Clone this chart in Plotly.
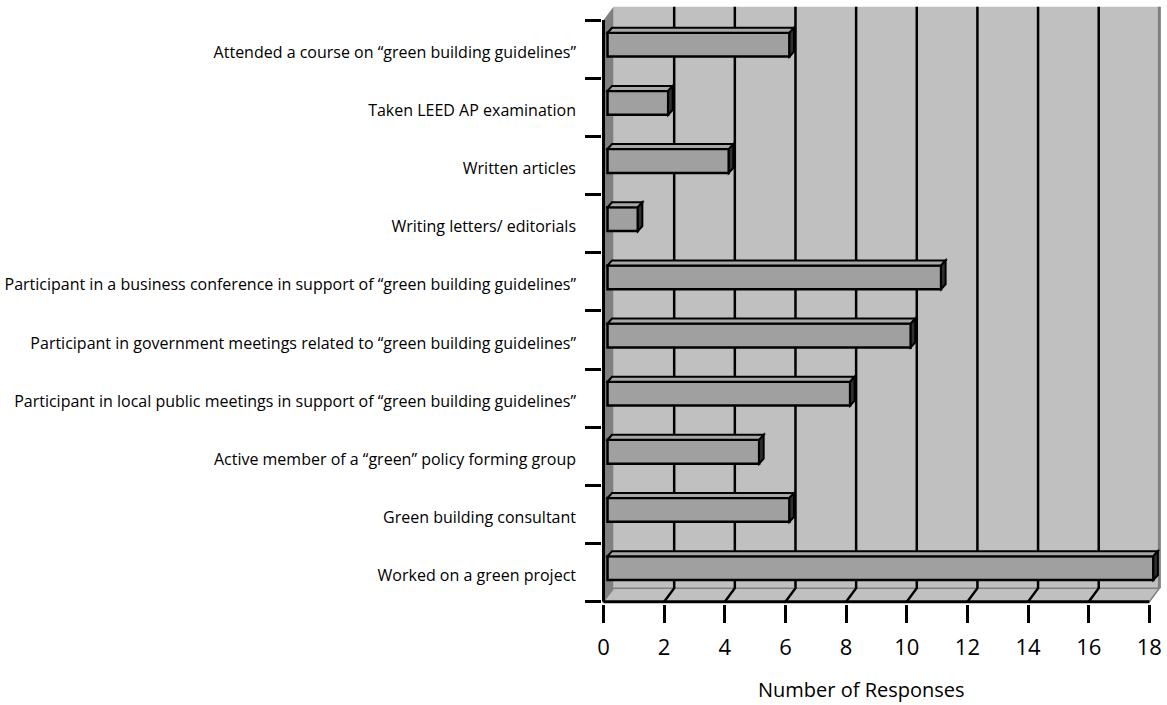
import plotly.graph_objects as go

# Survey: participation in green-building related activities
categories = [
    "Worked on a green project",
    "Green building consultant",
    "Active member of a \u201cgreen\u201d policy forming group",
    "Participant in local public meetings in support of \u201cgreen building guidelines\u201d",
    "Participant in government meetings related to \u201cgreen building guidelines\u201d",
    "Participant in a business conference in support of \u201cgreen building guidelines\u201d",
    "Writing letters/ editorials",
    "Written articles",
    "Taken LEED AP examination",
    "Attended a course on \u201cgreen building guidelines\u201d",
]
responses = [18, 6, 5, 8, 10, 11, 1, 4, 2, 6]
x_ticks = [0, 2, 4, 6, 8, 10, 12, 14, 16, 18]

# Pseudo-3D geometry (in axis units)
W, H = 1167, 705
PX_X, PX_Y = 30.28, 58.2          # pixels per unit
X0_PX, Y0_PX = 604, 602           # pixel of the front origin
DX, DY = 10 / PX_X, 13.5 / PX_Y   # depth of the wall/floor
BX, BY = 4 / PX_X, 4.5 / PX_Y     # bar front offset
BDX, BDY = 4.5 / PX_X, 5 / PX_Y   # bar depth
LBL = 3 / PX_Y                    # category labels sit slightly low
BAR_W = 0.41
XMAX = max(x_ticks)
N = len(categories)
xr = [-0.05, 18.45]
yr = [-0.04, 10.26]

m_l = X0_PX + xr[0] * PX_X
m_r = W - (X0_PX + xr[1] * PX_X)
m_b = H - (Y0_PX - yr[0] * PX_Y)
m_t = Y0_PX - yr[1] * PX_Y
plot_w = W - m_l - m_r
plot_h = H - m_t - m_b

WALL = "#c0c0c0"
SIDE = "#808080"
BAR = "#a0a0a0"

shapes = []
# back wall
shapes.append(dict(type="rect", layer="below", x0=DX, x1=XMAX + DX, y0=DY, y1=N + DY,
                   fillcolor=WALL, line=dict(width=0)))
# left wall
shapes.append(dict(type="path", layer="below",
                   path=f"M0,0 L{DX},{DY} L{DX},{N + DY} L0,{N} Z",
                   fillcolor=SIDE, line=dict(width=0)))
# floor
shapes.append(dict(type="path", layer="below",
                   path=f"M0,0 L{XMAX},0 L{XMAX + DX},{DY} L{DX},{DY} Z",
                   fillcolor=WALL, line=dict(color=SIDE, width=1.5)))
# right edge of back wall
shapes.append(dict(type="line", layer="below", x0=XMAX + DX, x1=XMAX + DX, y0=DY, y1=N + DY,
                   line=dict(color=SIDE, width=3)))
# gridlines: floor diagonal + back wall vertical
for v in x_ticks[1:-1]:
    shapes.append(dict(type="path", layer="below",
                       path=f"M{v},0 L{v + DX},{DY} L{v + DX},{N + DY}",
                       line=dict(color="black", width=2.5)))
# axis lines
shapes.append(dict(type="line", layer="above", x0=0, x1=0, y0=0, y1=N,
                   line=dict(color="black", width=3)))
shapes.append(dict(type="line", layer="above", x0=0, x1=XMAX, y0=0, y1=0,
                   line=dict(color="black", width=3)))

# 3D faces of the bars
for i, v in enumerate(responses):
    top = i + 0.5 + BY + BAR_W / 2
    bot = i + 0.5 + BY - BAR_W / 2
    x_end = BX + v
    shapes.append(dict(type="path", layer="above",
                       path=f"M{BX},{top} L{x_end},{top} L{x_end + BDX},{top + BDY} L{BX + BDX},{top + BDY} Z",
                       fillcolor="#a8a8a8", line=dict(color="black", width=2)))
    shapes.append(dict(type="path", layer="above",
                       path=f"M{x_end},{top} L{x_end + BDX},{top + BDY} L{x_end + BDX},{bot + BDY} L{x_end},{bot} Z",
                       fillcolor="#303030", line=dict(color="black", width=2)))

fig = go.Figure()
fig.add_trace(go.Bar(
    orientation="h",
    x=responses,
    base=[BX] * N,
    y=[i + 0.5 + BY for i in range(N)],
    width=BAR_W,
    marker=dict(color=BAR, line=dict(color="black", width=2.5)),
    hoverinfo="skip",
))

fig.update_layout(
    width=W, height=H,
    margin=dict(l=m_l, r=m_r, t=m_t, b=m_b, pad=0),
    paper_bgcolor="white",
    plot_bgcolor="white",
    showlegend=False,
    shapes=shapes,
    font=dict(family="Open Sans", color="black"),
    xaxis=dict(
        range=xr, showgrid=False, zeroline=False, showline=False,
        tickmode="array", tickvals=x_ticks,
        ticks="outside", ticklen=18, tickwidth=3, tickcolor="black",
        tickfont=dict(size=22), ticklabelstandoff=6,
    ),
    yaxis=dict(
        range=yr, showgrid=False, zeroline=False, showline=False,
        tickmode="array", tickvals=[i + 0.5 - LBL for i in range(N)], ticktext=categories,
        ticks="", tickfont=dict(size=16), ticklabelstandoff=25,
        minor=dict(tickmode="array", tickvals=list(range(N + 1)),
                   ticks="outside", ticklen=16, tickwidth=3, tickcolor="black"),
    ),
    annotations=[dict(
        text="Number of Responses", showarrow=False,
        xref="paper", yref="paper",
        x=(862 - m_l) / plot_w, y=-(690 - (H - m_b)) / plot_h,
        xanchor="center", yanchor="middle",
        font=dict(size=20),
    )],
)

fig.write_html("out.html")
